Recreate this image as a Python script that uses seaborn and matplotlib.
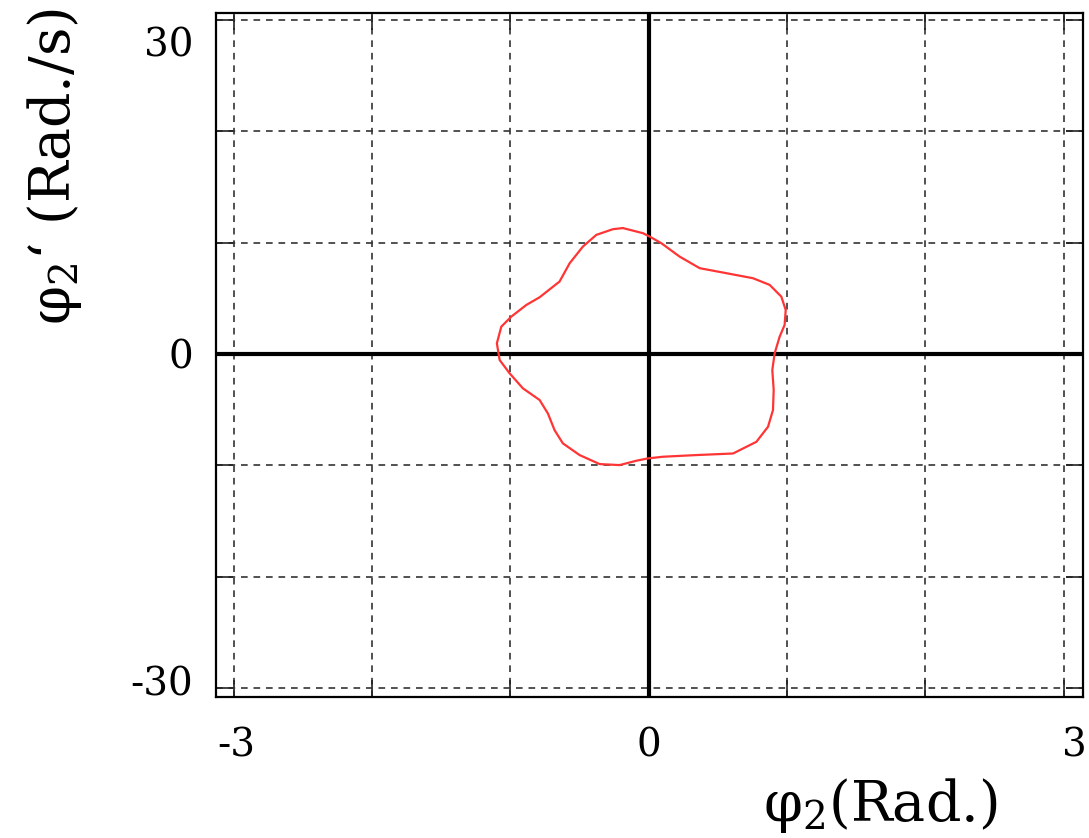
import numpy as np
import pandas as pd
import matplotlib
matplotlib.use("Agg")
import matplotlib.pyplot as plt
import matplotlib.transforms as mtransforms
import seaborn as sns

# Limit-cycle trace (phase portrait)
phi2 = [-0.186, -0.041, 0.007, 0.092, 0.224, 0.369, 0.562, 0.754, 0.875, 0.959,
        0.991, 0.983, 0.947, 0.911, 0.894, 0.904, 0.899, 0.863, 0.779, 0.610,
        0.345, 0.104, -0.005, -0.089, -0.210, -0.354, -0.499, -0.620, -0.680, -0.728,
        -0.788, -0.909, -1.005, -1.077, -1.097, -1.065, -0.993, -0.884, -0.788, -0.644,
        -0.571, -0.475, -0.378, -0.258, -0.186]
dphi2 = [11.30, 10.84, 10.54, 9.94, 8.74, 7.70, 7.25, 6.80, 6.20, 5.15,
         3.95, 2.61, 1.55, 0.06, -1.44, -3.23, -5.03, -6.53, -7.88, -8.93,
         -9.07, -9.22, -9.37, -9.58, -9.97, -9.88, -9.07, -8.02, -6.83, -5.34,
         -4.13, -3.08, -1.73, -0.54, 0.96, 2.45, 3.35, 4.40, 5.09, 6.50,
         8.14, 9.64, 10.69, 11.20, 11.30]

x_ticks = [-3, -2, -1, 0, 1, 2, 3]
x_labels = ["-3", "", "", "0", "", "", "3"]
y_ticks = [-30, -20, -10, 0, 10, 20, 30]
y_labels = ["-30", "", "", "0", "", "", "30"]

df = pd.DataFrame({"phi2": phi2, "dphi2": dphi2})

sns.set_theme(style="white")
plt.rcParams["font.family"] = ["DejaVu Serif"]
plt.rcParams["mathtext.fontset"] = "dejavuserif"
plt.rcParams["text.color"] = "black"
plt.rcParams["axes.labelcolor"] = "black"

fig = plt.figure(figsize=(10.89, 8.38), dpi=100)
ax = fig.add_axes([0.198, 0.168, 0.7965, 0.8165])

ax.set_xlim(-3.13, 3.14)
ax.set_ylim(-30.8, 30.6)

ax.set_xticks(x_ticks)
ax.set_xticklabels(x_labels)
ax.set_yticks(y_ticks)
ax.set_yticklabels(y_labels)

ax.grid(True, color="#333333", linestyle=(0, (4, 3.5)), linewidth=1.2)
ax.set_axisbelow(True)

ax.axhline(0, color="black", linewidth=3, zorder=2)
ax.axvline(0, color="black", linewidth=3, zorder=2)

sns.lineplot(data=df, x="phi2", y="dphi2", sort=False, estimator=None,
             color="#ff3535", linewidth=1.6, ax=ax, zorder=3)

for s in ax.spines.values():
    s.set_color("black")
    s.set_linewidth(1.6)

ax.tick_params(axis="both", which="major", direction="in", length=12, width=1.2,
               color="#222222", top=True, right=True, bottom=True, left=True,
               labelsize=28, labelcolor="black")
ax.tick_params(axis="x", pad=22)
ax.tick_params(axis="y", pad=16)

# small positional nudges of tick labels
def nudge(lbl, dx, dy):
    off = mtransforms.ScaledTranslation(dx / 72, dy / 72, fig.dpi_scale_trans)
    lbl.set_transform(lbl.get_transform() + off)

xl = ax.get_xticklabels()
nudge(xl[0], 2, 0)
nudge(xl[-1], 8, 0)
yl = ax.get_yticklabels()
nudge(yl[-1], 0, -16)
nudge(yl[0], 0, 5)

ax.set_xlabel("φ$_2$(Rad.)", fontsize=40, va="center", color="black")
ax.xaxis.set_label_coords(0.766, -0.158)
ax.set_ylabel("φ$_2$‘ (Rad./s)", fontsize=40, va="center", color="black")
ax.yaxis.set_label_coords(-0.186, 0.775)

fig.savefig("out.png", dpi=100)
